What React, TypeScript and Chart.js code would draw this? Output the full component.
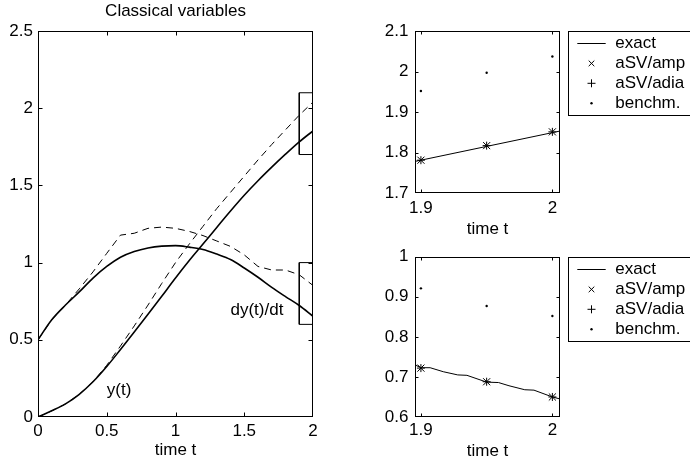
import React, { useEffect, useRef } from 'react';
import { Chart, registerables } from 'chart.js';

Chart.register(...registerables);

const FONT_FAMILY = '"Liberation Sans", Arial, Helvetica, sans-serif';
const FONT_SIZE = 17;

// ---------- main panel data ----------
const tMain = [0, 0.1, 0.2, 0.3, 0.4, 0.5, 0.6, 0.7, 0.8, 0.9, 1.0, 1.1, 1.2, 1.3, 1.4, 1.5, 1.6, 1.7, 1.8, 1.9, 2.0];
const yExact = [0, 0.04, 0.085, 0.147, 0.228, 0.327, 0.437, 0.55, 0.665, 0.782, 0.9, 1.013, 1.12, 1.228, 1.334, 1.436, 1.53, 1.618, 1.702, 1.782, 1.853];
const dyExact = [0.5, 0.63, 0.725, 0.81, 0.9, 0.975, 1.035, 1.072, 1.095, 1.107, 1.11, 1.1, 1.085, 1.055, 1.02, 0.965, 0.905, 0.84, 0.78, 0.722, 0.652];
const yBench = [0, 0.04, 0.085, 0.147, 0.228, 0.335, 0.46, 0.59, 0.725, 0.865, 1.0, 1.12, 1.235, 1.35, 1.455, 1.56, 1.665, 1.765, 1.86, 1.955, 2.04];
const dyBench = [0.5, 0.63, 0.725, 0.83, 0.94, 1.06, 1.178, 1.19, 1.222, 1.23, 1.222, 1.202, 1.175, 1.14, 1.105, 1.05, 0.975, 0.952, 0.952, 0.921, 0.852];
const mainXTicks = [0, 0.5, 1, 1.5, 2];
const mainXTickLabels = ['0', '0.5', '1', '1.5', '2'];
const mainYTicks = [0, 0.5, 1, 1.5, 2, 2.5];
const mainYTickLabels = ['0', '0.5', '1', '1.5', '2', '2.5'];
const zoomRectT = [1.9, 2, 2, 1.9, 1.9];
const zoomRectY1 = [1.7, 1.7, 2.1, 2.1, 1.7];
const zoomRectY2 = [0.6, 0.6, 1.0, 1.0, 0.6];
const annotTexts = ['y(t)', 'dy(t)/dt'];
const annotT = [0.5, 1.4];
const annotV = [0.17, 0.69];

// ---------- zoom panels data ----------
const zoomXMin = 1.8955;
const zoomXMax = 2.0058;
const zoomT = [1.9, 1.95, 2.0];
const zoomXTicks = [1.9, 2];
const zoomXTickLabels = ['1.9', '2'];

const yExactZoomT = [1.8955, 2.0058];
const yExactZoom = [1.778, 1.853];
const yAmp = [1.781, 1.817, 1.851];
const yAdia = [1.781, 1.817, 1.851];
const yBenchZoom = [1.952, 1.997, 2.037];
const topYTicks = [1.7, 1.8, 1.9, 2.0, 2.1];
const topYTickLabels = ['1.7', '1.8', '1.9', '2', '2.1'];

const dyExactZoomT = [1.8955, 1.9, 1.907, 1.917, 1.928, 1.935, 1.95, 1.959, 1.967, 1.979, 1.986, 2.0, 2.0058];
const dyExactZoom = [0.73, 0.723, 0.723, 0.713, 0.705, 0.704, 0.687, 0.686, 0.678, 0.668, 0.667, 0.65, 0.645];
const dyAmp = [0.722, 0.688, 0.65];
const dyAdia = [0.722, 0.688, 0.65];
const dyBenchZoom = [0.921, 0.877, 0.852];
const botYTicks = [0.6, 0.7, 0.8, 0.9, 1.0];
const botYTickLabels = ['0.6', '0.7', '0.8', '0.9', '1'];

const legendLabels = ['exact', 'aSV/amp', 'aSV/adia', 'benchm.'];

const DASH_PATTERN = [7, 5];

const pts = (xs: number[], ys: number[]) => xs.map((x, i) => ({ x, y: ys[i] }));
const font = { family: FONT_FAMILY, size: FONT_SIZE };

const MAIN_PAD = { left: 38, right: 32, top: 31, bottom: 48 };

function boxPlugin(tickLen: number) {
  return {
    id: 'matlabBox',
    afterDatasetsDraw(chart: any) {
      const { ctx, chartArea: a, scales } = chart;
      const l = Math.round(a.left) + 0.5;
      const r = Math.round(a.right) - 0.5;
      const t = Math.round(a.top) + 0.5;
      const b = Math.round(a.bottom) - 0.5;
      ctx.save();
      ctx.strokeStyle = '#000';
      ctx.lineWidth = 1;
      ctx.strokeRect(l, t, r - l, b - t);
      ctx.beginPath();
      for (const tk of scales.x.ticks) {
        let px = Math.round(scales.x.getPixelForValue(tk.value)) + 0.5;
        px = Math.min(Math.max(px, l), r);
        ctx.moveTo(px, b); ctx.lineTo(px, b - tickLen);
        ctx.moveTo(px, t); ctx.lineTo(px, t + tickLen);
      }
      for (const tk of scales.y.ticks) {
        let py = Math.round(scales.y.getPixelForValue(tk.value)) + 0.5;
        py = Math.min(Math.max(py, t), b);
        ctx.moveTo(l, py); ctx.lineTo(l + tickLen, py);
        ctx.moveTo(r, py); ctx.lineTo(r - tickLen, py);
      }
      ctx.stroke();
      ctx.restore();
    },
  };
}

// strokes the datasets flagged with `dashed` along the points the library laid out, with a dash pattern
const dashPlugin = {
  id: 'dashedLines',
  afterDatasetsDraw(chart: any) {
    const { ctx, chartArea: a } = chart;
    ctx.save();
    ctx.beginPath();
    ctx.rect(a.left, a.top, a.right - a.left, a.bottom - a.top);
    ctx.clip();
    ctx.strokeStyle = '#000';
    ctx.lineWidth = 1;
    ctx.lineCap = 'butt';
    chart.data.datasets.forEach((ds: any, di: number) => {
      if (!ds.dashed) return;
      const meta = chart.getDatasetMeta(di);
      const p = meta.data.map((el: any) => ({ x: el.x, y: el.y }));
      if (p.length < 2) return;
      let idx = 0;
      let left = DASH_PATTERN[0];
      let on = true;
      ctx.beginPath();
      ctx.moveTo(p[0].x, p[0].y);
      for (let i = 1; i < p.length; i++) {
        let x0 = p[i - 1].x;
        let y0 = p[i - 1].y;
        const x1 = p[i].x;
        const y1 = p[i].y;
        let segLen = Math.hypot(x1 - x0, y1 - y0);
        while (segLen > 1e-6) {
          const step = Math.min(left, segLen);
          const f = step / segLen;
          const nx = x0 + (x1 - x0) * f;
          const ny = y0 + (y1 - y0) * f;
          if (on) ctx.lineTo(nx, ny); else ctx.moveTo(nx, ny);
          x0 = nx; y0 = ny;
          segLen -= step;
          left -= step;
          if (left <= 1e-6) {
            idx = (idx + 1) % DASH_PATTERN.length;
            left = DASH_PATTERN[idx];
            on = !on;
          }
        }
      }
      ctx.stroke();
    });
    ctx.restore();
  },
};

const mainTextPlugin = {
  id: 'mainText',
  afterDraw(chart: any) {
    const { ctx, chartArea: a, scales } = chart;
    ctx.save();
    ctx.fillStyle = '#000';
    ctx.font = `${FONT_SIZE}px ${FONT_FAMILY}`;
    ctx.textBaseline = 'middle';
    ctx.textAlign = 'center';
    ctx.fillText('Classical variables', (a.left + a.right) / 2, 11);
    ctx.textAlign = 'left';
    annotTexts.forEach((txt, i) => {
      ctx.fillText(txt, scales.x.getPixelForValue(annotT[i]), scales.y.getPixelForValue(annotV[i]));
    });
    ctx.restore();
  },
};

const legendPlugin = {
  id: 'matlabLegend',
  afterDraw(chart: any) {
    const { ctx, chartArea: a } = chart;
    const x0 = Math.round(a.right + 7.7) + 0.5;
    const y0 = Math.round(a.top) + 0.5;
    const h = 84;
    ctx.save();
    ctx.fillStyle = '#fff';
    ctx.strokeStyle = '#000';
    ctx.lineWidth = 1;
    ctx.fillRect(x0, y0, 200, h);
    ctx.strokeRect(x0, y0, 200, h);
    ctx.font = `${FONT_SIZE}px ${FONT_FAMILY}`;
    ctx.textBaseline = 'middle';
    ctx.textAlign = 'left';
    ctx.fillStyle = '#000';
    const mx = a.right + 31.5;
    legendLabels.forEach((lab, i) => {
      const y = y0 + 12 + i * 19.9;
      ctx.beginPath();
      if (i === 0) {
        ctx.moveTo(a.right + 17.3, y); ctx.lineTo(a.right + 45.7, y);
        ctx.stroke();
      } else if (i === 1) {
        const d = 2.8;
        ctx.moveTo(mx - d, y - d); ctx.lineTo(mx + d, y + d);
        ctx.moveTo(mx - d, y + d); ctx.lineTo(mx + d, y - d);
        ctx.stroke();
      } else if (i === 2) {
        const d = 4;
        ctx.moveTo(mx - d, y); ctx.lineTo(mx + d, y);
        ctx.moveTo(mx, y - d); ctx.lineTo(mx, y + d);
        ctx.stroke();
      } else {
        ctx.arc(mx, y, 1.2, 0, Math.PI * 2);
        ctx.fill();
      }
      ctx.fillText(lab, a.right + 55.3, y);
    });
    ctx.restore();
  },
};

function scaleX(min: number, max: number, ticks: number[], labels: string[], height: number, tickPad: number, titlePad: number) {
  return {
    type: 'linear',
    min,
    max,
    afterFit: (s: any) => { s.height = height; },
    afterBuildTicks: (s: any) => { s.ticks = ticks.map((v) => ({ value: v })); },
    ticks: { callback: (_v: any, i: number) => labels[i], font, color: '#000', padding: tickPad, maxRotation: 0, autoSkip: false },
    grid: { display: false, drawTicks: false },
    border: { display: false },
    title: { display: true, text: 'time t', font, color: '#000', padding: { top: 0, bottom: titlePad } },
  };
}

function scaleY(min: number, max: number, ticks: number[], labels: string[], width: number, tickPad: number) {
  return {
    type: 'linear',
    min,
    max,
    afterFit: (s: any) => { s.width = width; },
    afterBuildTicks: (s: any) => { s.ticks = ticks.map((v) => ({ value: v })); },
    ticks: { callback: (_v: any, i: number) => labels[i], font, color: '#000', padding: tickPad, autoSkip: false },
    grid: { display: false, drawTicks: false },
    border: { display: false },
  };
}

const baseOpts = {
  animation: false,
  responsive: false,
  maintainAspectRatio: false,
  devicePixelRatio: 1,
  plugins: { legend: { display: false }, tooltip: { enabled: false }, title: { display: false } },
};

function mainConfig(): any {
  const line = (data: any, extra: any) => ({ data, showLine: true, fill: false, borderColor: '#000', pointRadius: 0, ...extra });
  return {
    type: 'line',
    data: {
      datasets: [
        line(pts(tMain, yExact), { borderWidth: 1.6, cubicInterpolationMode: 'monotone' }),
        line(pts(tMain, dyExact), { borderWidth: 1.6, cubicInterpolationMode: 'monotone' }),
        line(pts(tMain, yBench), { borderWidth: 0, tension: 0, dashed: true }),
        line(pts(tMain, dyBench), { borderWidth: 0, tension: 0, dashed: true }),
        line(pts(zoomRectT, zoomRectY1), { borderWidth: 1, tension: 0 }),
        line(pts(zoomRectT, zoomRectY2), { borderWidth: 1, tension: 0 }),
      ],
    },
    options: {
      ...baseOpts,
      layout: { padding: { left: 0, right: MAIN_PAD.right, top: MAIN_PAD.top, bottom: 0 } },
      scales: {
        x: scaleX(0, 2, mainXTicks, mainXTickLabels, MAIN_PAD.bottom, 4.5, 4),
        y: scaleY(0, 2.5, mainYTicks, mainYTickLabels, MAIN_PAD.left, 5),
      },
    },
    plugins: [dashPlugin, boxPlugin(4), mainTextPlugin],
  };
}

function zoomConfig(exT: number[], exV: number[], amp: number[], adia: number[], bench: number[], yMin: number, yMax: number, yTicks: number[], yLabels: string[], padTop: number, xHeight: number, xTickPad: number, xTitlePad: number): any {
  return {
    type: 'line',
    data: {
      datasets: [
        { label: legendLabels[0], data: pts(exT, exV), showLine: true, fill: false, borderColor: '#000', borderWidth: 1, pointRadius: 0, tension: 0 },
        { label: legendLabels[1], data: pts(zoomT, amp), showLine: false, pointStyle: 'crossRot', pointRadius: 5, borderColor: '#000', borderWidth: 1 },
        { label: legendLabels[2], data: pts(zoomT, adia), showLine: false, pointStyle: 'cross', pointRadius: 4, borderColor: '#000', borderWidth: 1 },
        { label: legendLabels[3], data: pts(zoomT, bench), showLine: false, pointStyle: 'circle', pointRadius: 1.2, borderWidth: 0, backgroundColor: '#000' },
      ],
    },
    options: {
      ...baseOpts,
      layout: { padding: { left: 0, right: 130, top: padTop, bottom: 0 } },
      scales: {
        x: scaleX(zoomXMin, zoomXMax, zoomXTicks, zoomXTickLabels, xHeight, xTickPad, xTitlePad),
        y: scaleY(yMin, yMax, yTicks, yLabels, 70, 6.5),
      },
    },
    plugins: [boxPlugin(3), legendPlugin],
  };
}

function ChartBox(props: { left: number; top: number; width: number; height: number; make: () => any }) {
  const ref = useRef<HTMLCanvasElement | null>(null);
  useEffect(() => {
    if (!ref.current) return;
    const chart = new Chart(ref.current, props.make());
    return () => chart.destroy();
  }, []);
  return (
    <div style={{ position: 'absolute', left: props.left, top: props.top, width: props.width, height: props.height }}>
      <canvas ref={ref} width={props.width} height={props.height} style={{ display: 'block', width: props.width, height: props.height }} />
    </div>
  );
}

export default function App() {
  return (
    <div style={{ position: 'absolute', left: 0, top: 0, width: 690, height: 465, background: '#fff', overflow: 'hidden' }}>
      <ChartBox left={0} top={0} width={345} height={465} make={mainConfig} />
      <ChartBox left={345} top={0} width={345} height={240}
        make={() => zoomConfig(yExactZoomT, yExactZoom, yAmp, yAdia, yBenchZoom, 1.7, 2.1, topYTicks, topYTickLabels, 31, 47, 5.5, 0.8)} />
      <ChartBox left={345} top={240} width={345} height={225}
        make={() => zoomConfig(dyExactZoomT, dyExactZoom, dyAmp, dyAdia, dyBenchZoom, 0.6, 1.0, botYTicks, botYTickLabels, 14, 48, 3, 3.3)} />
    </div>
  );
}
